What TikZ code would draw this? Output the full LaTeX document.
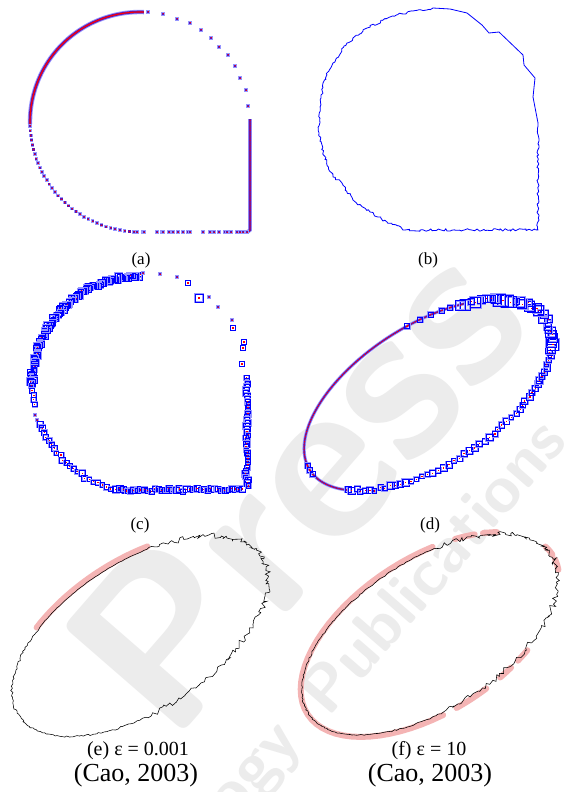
\documentclass[tikz,border=0pt]{standalone}
\usepackage{fontspec}
\setmainfont{Liberation Serif}
\usetikzlibrary{decorations.pathmorphing}
\definecolor{dotpurple}{RGB}{95,20,175}
\definecolor{halo}{RGB}{150,150,255}
\definecolor{pinkband}{RGB}{244,180,180}
\definecolor{wmark}{RGB}{236,236,236}
\newcommand\adot[2]{%
  \fill[halo] ({#1-1.8},{#2-1.8}) rectangle ({#1+1.8},{#2+1.8});
  \fill[dotpurple] ({#1-1.1},{#2-1.1}) rectangle ({#1+1.1},{#2+1.1});
  \fill[red] ({#1-0.5},{#2-0.5}) rectangle ({#1+0.5},{#2+0.5});}
\newcommand\sqpt[3]{%
  \draw[halo, line width=1.8] ({#1-#3},{#2-#3}) rectangle ({#1+#3},{#2+#3});
  \draw[blue, line width=0.7] ({#1-#3},{#2-#3}) rectangle ({#1+#3},{#2+#3});
  \fill[red] ({#1-0.6},{#2-0.6}) rectangle ({#1+0.6},{#2+0.6});}
\tikzset{
  lblsmall/.style={font=\fontsize{17}{20}\selectfont, anchor=base, inner sep=0pt},
  lblmid/.style={font=\fontsize{20}{24}\selectfont, anchor=base, inner sep=0pt},
  lblbig/.style={font=\fontsize{26}{30}\selectfont, anchor=base, inner sep=0pt},
  contour/.style={black, line width=0.55, line join=miter},
  pinkseg/.style={pinkband, line width=6, line cap=round},
  bluecurve/.style={blue, line width=0.8, line join=round},
  wmtext/.style={text=wmark, inner sep=0pt, rotate=49},
}
\begin{document}
\begin{tikzpicture}[x=1pt,y=-1pt]
\useasboundingbox (0,0) rectangle (565,792);
\fill[white] (0,0) rectangle (565,792);
\pgfmathsetseed{11}

% ---------- faint watermark ----------
\begin{scope}
\clip (0,0) rectangle (565,792);
\node[wmtext, font=\fontsize{230}{230}\sffamily\bfseries] (wm1) at (295,485) {Press};
\node[wmtext, font=\fontsize{66}{66}\sffamily\bfseries] (wm2) at (432,566) {Publications};
\node[wmtext, font=\fontsize{66}{66}\sffamily\bfseries, anchor=east] (wm3) at (290,732) {Technology};
\end{scope}

% ---------- (a) ----------
\foreach \w/\c in {4.4/halo, 2.6/dotpurple, 1.1/red}
  \draw[\c, line width=\w] plot[domain=88:181, samples=90, variable=\t] ({140+110*cos(\t)},{122-110*sin(\t)});
\foreach \w/\c in {3.8/halo, 2.2/dotpurple}
  \draw[\c, line width=\w] (250,119) -- (250,230) -- (247.5,232) -- (240,232);
\draw[red, line width=1, dash pattern=on 1pt off 1.5pt] (250,120) -- (250,230) -- (247.5,232);
\foreach \t [evaluate=\t as \xx using {140+110*cos(\t)}, evaluate=\t as \yy using {122-110*sin(\t)}] in {182,184.5,...,268}
  {\adot{\xx}{\yy}}
\foreach \xx/\yy in {148/12,163/14,177/19,190/23,201/30,211/38,219/47,228/55,235/66,240/78,246/90,248/106}
  {\adot{\xx}{\yy}}
\foreach \xx in {137,143,144,157,162,163,169,172,173,178,183,188,190,203,210,214,219,225,227,231,237,240,243,247}
  {\adot{\xx}{232}}

% ---------- (b) ----------
\draw[bluecurve] (433,8) -- (450,9) -- (467,13) -- (482,25) -- (489,33) -- (499,32) -- (523,55) -- (524,65) -- (535,78) -- (533,97) -- (538,123);
\draw[bluecurve, decorate, decoration={random steps, segment length=2.2pt, amplitude=1.3pt}]
  (538,123) -- (538,230) -- (405,230) -- (387,222) -- (370,212) -- (353,200) -- (342,183) -- (333,177) -- (323,153) -- (319,133) -- (320,107) -- (323,83) -- (333,63) -- (347,43) -- (367,28) -- (390,17) -- (413,11) -- (433,8);

% ---------- (c) ----------
\foreach \t in {90,90.8,...,180}{
  \pgfmathsetmacro\rr{108+2*rand}
  \pgfmathsetmacro\xx{140+\rr*cos(\t)}
  \pgfmathsetmacro\yy{384-\rr*sin(\t)}
  \pgfmathsetmacro\hh{2+1.5*rnd}
  \sqpt{\xx}{\yy}{\hh}}
\foreach \t in {181,183.5,...,192}{
  \pgfmathsetmacro\rr{108+1.6*rand}
  \pgfmathsetmacro\xx{140+\rr*cos(\t)}
  \pgfmathsetmacro\yy{384-\rr*sin(\t)}
  \sqpt{\xx}{\yy}{2.4}}
\adot{35}{415}\adot{37}{420}\adot{41}{427}
\foreach \t in {202,204.5,...,268}{
  \pgfmathsetmacro\rr{108+1.8*rand}
  \pgfmathsetmacro\xx{140+\rr*cos(\t)}
  \pgfmathsetmacro\yy{384-\rr*sin(\t)}
  \pgfmathsetmacro\hh{2+1.3*rnd}
  \sqpt{\xx}{\yy}{\hh}}
\foreach \xx in {120,123.5,...,244}{
  \pgfmathsetmacro\yy{490+1.5*rand}
  \pgfmathsetmacro\hh{2+1.3*rnd}
  \sqpt{\xx}{\yy}{\hh}}
\foreach \yy in {378,381,...,488}{
  \pgfmathsetmacro\xx{247+1.6*rand}
  \pgfmathsetmacro\hh{2+1.3*rnd}
  \sqpt{\xx}{\yy}{\hh}}
\foreach \xx/\yy in {143/273,160/274,177/277,209/297,218/307,232/320}
  {\adot{\xx}{\yy}}
\foreach \xx/\yy/\hh in {188/283/2.5,199/298/4,233/328/2.5,244/342/2.5,243/348/2.5,242/364/2.5}
  {\sqpt{\xx}{\yy}{\hh}}

% ---------- (d) ----------
\draw[halo, line width=3.2] plot[domain=55:212, samples=120, variable=\p] ({428+118.08*cos(\p)-37.61*sin(\p)},{395-75.22*cos(\p)-59.04*sin(\p)});
\draw[dotpurple, line width=1.6] plot[domain=55:212, samples=120, variable=\p] ({428+118.08*cos(\p)-37.61*sin(\p)},{395-75.22*cos(\p)-59.04*sin(\p)});
\draw[red, line width=1, dash pattern=on 1pt off 1.6pt] plot[domain=55:212, samples=120, variable=\p] ({428+118.08*cos(\p)-37.61*sin(\p)},{395-75.22*cos(\p)-59.04*sin(\p)});
\foreach \p in {176,180,184,62,66,71,76,82}{
  \pgfmathsetmacro\xx{428+118.08*cos(\p)-37.61*sin(\p)}
  \pgfmathsetmacro\yy{395-75.22*cos(\p)-59.04*sin(\p)}
  \sqpt{\xx}{\yy}{2.6}}
\foreach \p in {212,214.5,...,417}{
  \pgfmathsetmacro\ss{1+0.018*rand}
  \pgfmathsetmacro\xx{428+\ss*(118.08*cos(\p)-37.61*sin(\p))}
  \pgfmathsetmacro\yy{395+\ss*(-75.22*cos(\p)-59.04*sin(\p))}
  \pgfmathsetmacro\hh{2.2+1.3*rnd+2.6*rnd*(\p>335)}
  \sqpt{\xx}{\yy}{\hh}}

% ---------- (e) ----------
\draw[pinkseg] plot[domain=68:124, samples=40, variable=\p] ({140+123.0*cos(\p)-41.7*sin(\p)},{636-80.1*cos(\p)-64.2*sin(\p)});
\draw[contour] plot[domain=0:360, samples=290, variable=\p]
  ({140+(145+(0.3+1.0*(\p>124)+2.2*(\p>255)+3.2*(\p<68))*rand)*0.8387*cos(\p)-(74+(0.3+1.0*(\p>124)+2.2*(\p>255)+3.2*(\p<68))*rand)*0.5446*sin(\p)},
   {636-(145+(0.3+1.0*(\p>124)+2.2*(\p>255)+3.2*(\p<68))*rand)*0.5446*cos(\p)-(74+(0.3+1.0*(\p>124)+2.2*(\p>255)+3.2*(\p<68))*rand)*0.8387*sin(\p)}) -- cycle;

% ---------- (f) ----------
\foreach \a/\b in {40/47,51/60,70/257,263/277,284/290,294/300,348/356,360/368}
  \draw[pinkseg] plot[domain=\a:\b, samples=40, variable=\p] ({430+122.4*cos(\p)-41.7*sin(\p)},{634.5-79.8*cos(\p)-64.2*sin(\p)});
\draw[contour] plot[domain=0:360, samples=290, variable=\p]
  ({430+(145+(0.9+2.6*(\p<68)+2.6*(\p>258))*rand)*0.8387*cos(\p)-(74+(0.9+2.6*(\p<68)+2.6*(\p>258))*rand)*0.5446*sin(\p)},
   {634.5-(145+(0.9+2.6*(\p<68)+2.6*(\p>258))*rand)*0.5446*cos(\p)-(74+(0.9+2.6*(\p<68)+2.6*(\p>258))*rand)*0.8387*sin(\p)}) -- cycle;

% ---------- labels ----------
\node[lblsmall] (la) at (141,264) {(a)};
\node[lblsmall] (lb) at (428,264) {(b)};
\node[lblsmall] (lc) at (140,529) {(c)};
\node[lblsmall] (ld) at (430,529) {(d)};
\node[lblmid] (le) at (138,755) {(e) ε = 0.001};
\node[lblbig] (lce) at (136,781) {(Cao, 2003)};
\node[lblmid] (lf) at (429,755) {(f) ε = 10};
\node[lblbig] (lcf) at (430,781) {(Cao, 2003)};
\end{tikzpicture}
\end{document}
